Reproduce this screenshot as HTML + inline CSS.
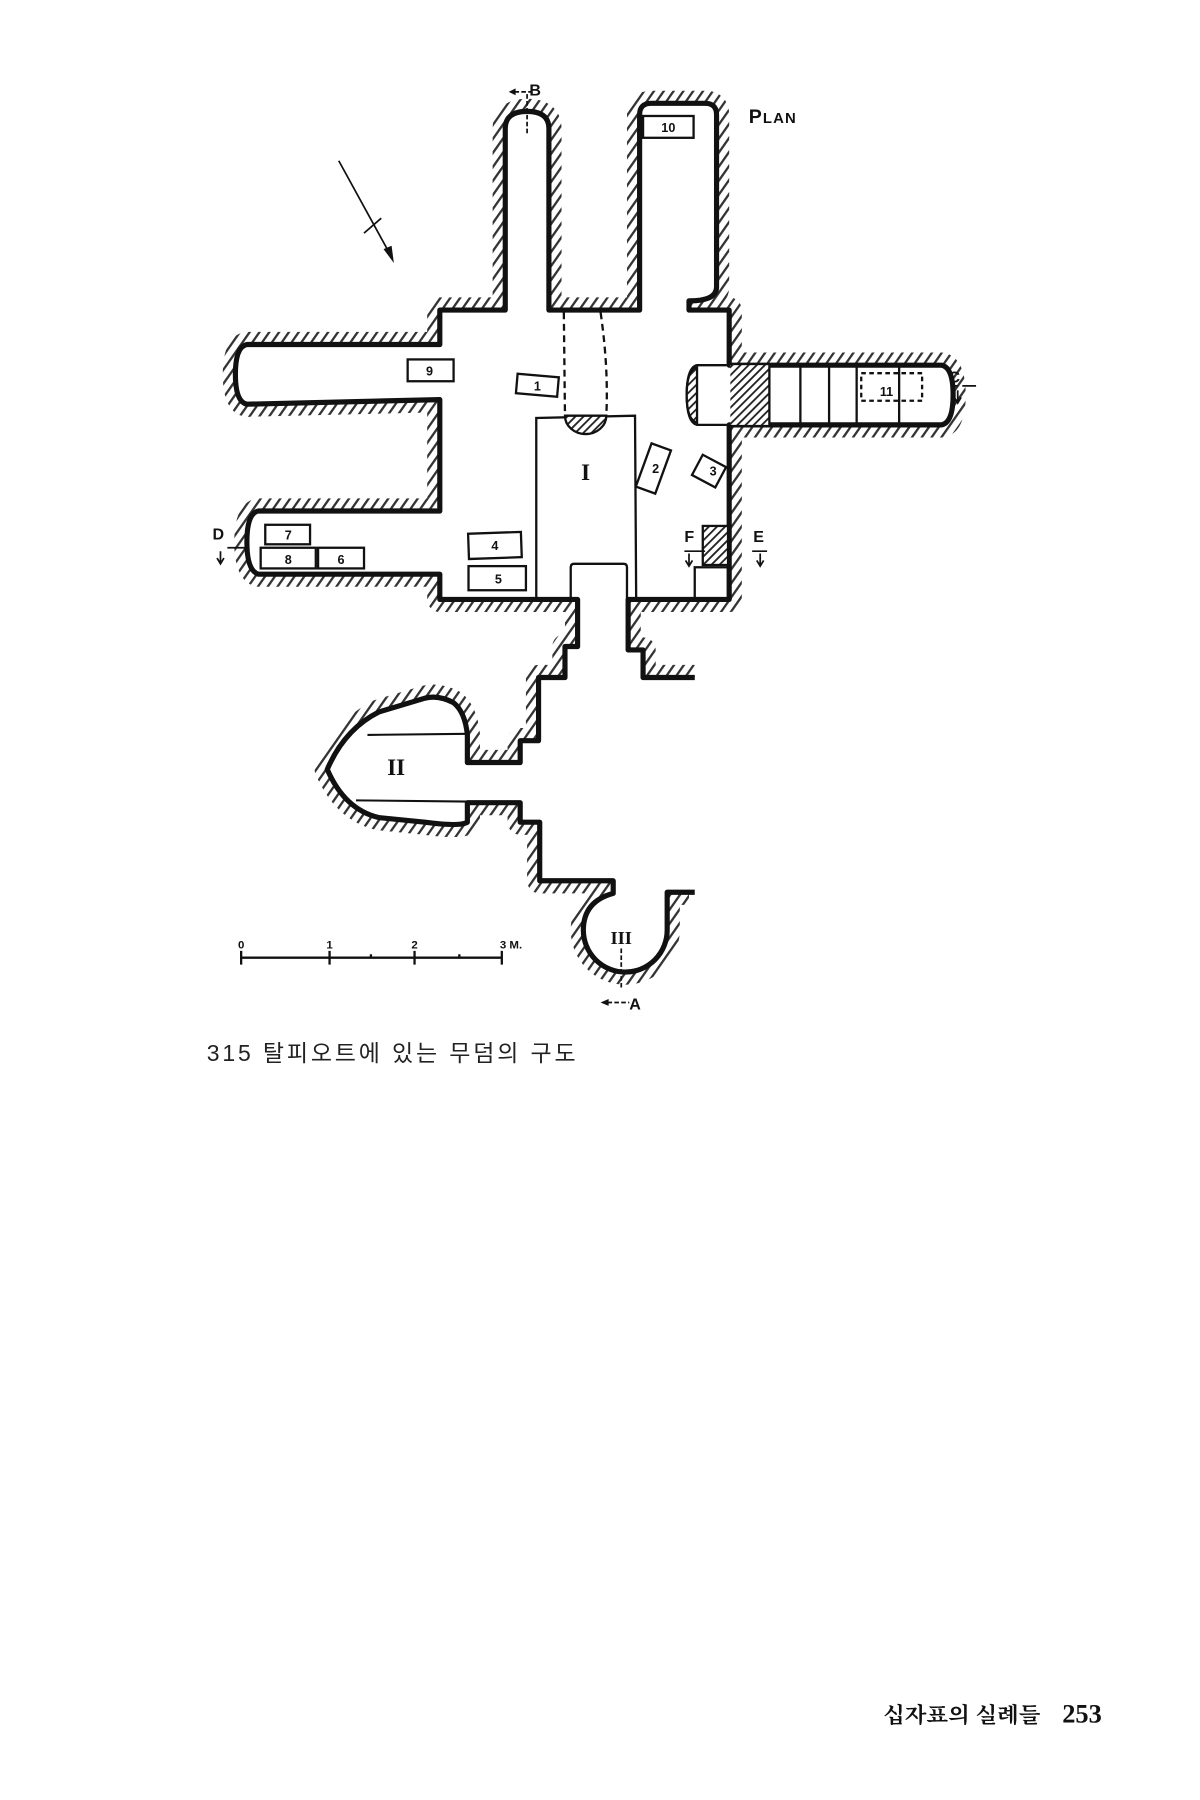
<!DOCTYPE html>
<html><head><meta charset="utf-8"><style>
html,body{margin:0;padding:0;background:#fff;overflow:hidden;width:1200px;height:1800px;}
svg{display:block;}
text{font-family:"Liberation Sans","Noto Sans CJK KR",sans-serif;}
</style></head><body>
<svg width="1200" height="1800" viewBox="0 0 1045 1567.5" xmlns="http://www.w3.org/2000/svg">
<defs>
<pattern id="h" width="7" height="7" patternUnits="userSpaceOnUse" patternTransform="rotate(35)">
<rect width="7" height="7" fill="#fff"/><rect width="2" height="7" fill="#333"/>
</pattern>
<pattern id="d" width="5" height="5" patternUnits="userSpaceOnUse" patternTransform="rotate(45)">
<rect width="5" height="5" fill="#fff"/><rect width="1.6" height="5" fill="#222"/>
</pattern>
</defs>
<g id="plan">
<path d="M605,590 L560,590 L560,566 L547,566 L547,522 L635,522 L635,370 L820,370 Q830,368 830,344 Q830,320 820,318 L635,318 L635,270 L600,270 L600,262 Q624,262 624,250 L624,100 Q624,90 614,90 L567,90 Q557,90 557,100 L557,270 L478,270 L478,112 Q478,97 459,97 Q440,97 440,112 L440,270 L383,270 L383,300 L215,300 Q205,302 205,326 Q205,350 215,352 L383,348 L383,445 L225,445 Q215,447 215,472 Q215,497 225,500 L383,500 L383,522 L503,522 L503,563 L492,563 L492,590 L469,590 L469,645 L453,645 L453,664 L407,664 L407,640 Q405,620 395,612 Q382,605 370,608 L330,620 Q300,635 285,670 Q300,705 330,712 L370,716 Q400,720 407,716 L407,699 L453,699 L453,716 L470,716 L470,767 L534,767 L534,778 Q508,785 508,810 A36,36 0 0 0 581,810 L581,777 L605,777" fill="none" stroke="url(#h)" stroke-width="22" stroke-linejoin="round"/>
<path d="M605,590 L560,590 L560,566 L547,566 L547,522 L635,522 L635,370 L820,370 Q830,368 830,344 Q830,320 820,318 L635,318 L635,270 L600,270 L600,262 Q624,262 624,250 L624,100 Q624,90 614,90 L567,90 Q557,90 557,100 L557,270 L478,270 L478,112 Q478,97 459,97 Q440,97 440,112 L440,270 L383,270 L383,300 L215,300 Q205,302 205,326 Q205,350 215,352 L383,348 L383,445 L225,445 Q215,447 215,472 Q215,497 225,500 L383,500 L383,522 L503,522 L503,563 L492,563 L492,590 L469,590 L469,645 L453,645 L453,664 L407,664 L407,640 Q405,620 395,612 Q382,605 370,608 L330,620 Q300,635 285,670 Q300,705 330,712 L370,716 Q400,720 407,716 L407,699 L453,699 L453,716 L470,716 L470,767 L534,767 L534,778 Q508,785 508,810 A36,36 0 0 0 581,810 L581,777 L605,777 Z" fill="#fff" stroke="none"/>
<rect x="600" y="590" width="20" height="200" fill="#fff"/>
<path d="M605,590 L560,590 L560,566 L547,566 L547,522 L635,522 L635,370 L820,370 Q830,368 830,344 Q830,320 820,318 L635,318 L635,270 L600,270 L600,262 Q624,262 624,250 L624,100 Q624,90 614,90 L567,90 Q557,90 557,100 L557,270 L478,270 L478,112 Q478,97 459,97 Q440,97 440,112 L440,270 L383,270 L383,300 L215,300 Q205,302 205,326 Q205,350 215,352 L383,348 L383,445 L225,445 Q215,447 215,472 Q215,497 225,500 L383,500 L383,522 L503,522 L503,563 L492,563 L492,590 L469,590 L469,645 L453,645 L453,664 L407,664 L407,640 Q405,620 395,612 Q382,605 370,608 L330,620 Q300,635 285,670 Q300,705 330,712 L370,716 Q400,720 407,716 L407,699 L453,699 L453,716 L470,716 L470,767 L534,767 L534,778 Q508,785 508,810 A36,36 0 0 0 581,810 L581,777 L605,777" fill="none" stroke="#111" stroke-width="4.5" stroke-linejoin="round"/>
</g>
<g fill="none" stroke="#111" stroke-width="2">
<path d="M497,522 L497,494 Q497,491 500,491 L543,491 Q546,491 546,494 L546,522"/>
<path d="M467,522 L467,364 L553,362 L554,522"/>
<path d="M492,362 A18,16 0 0 0 528,362 Z" fill="url(#d)"/>
<path d="M491,272 L492,362 M523,272 Q530,320 528,362" stroke-dasharray="6,4"/>
<path d="M320,640 L407,639 M310,697 L407,698" stroke-width="1.8"/>
<rect x="636" y="318" width="34" height="52" fill="url(#d)" stroke="none"/>
<path d="M670,318 L670,370 M697,319 L697,370 M722,319 L722,370 M746,319 L746,370 M783,320 L783,368"/>
<rect x="750" y="325" width="53" height="24" stroke-dasharray="4,3"/>
<path d="M633,318 L607,318 Q598,320 598,344 Q598,368 607,370 L633,370"/>
<path d="M607,320 Q598,322 598,344 Q598,366 607,368 Z" fill="url(#d)"/>
<rect x="612" y="458" width="22" height="34" fill="url(#d)"/>
<rect x="605" y="494" width="29" height="28"/>
<rect x="355" y="313" width="40" height="19"/>
<rect x="450" y="327" width="36" height="17" transform="rotate(5 468 335)"/>
<rect x="560" y="388" width="18" height="40" transform="rotate(20 569 408)"/>
<rect x="606" y="400" width="23" height="20" transform="rotate(28 617 410)"/>
<rect x="408" y="464" width="46" height="22" transform="rotate(-2 431 475)"/>
<rect x="408" y="493" width="50" height="21"/>
<rect x="231" y="457" width="39" height="17"/>
<rect x="227" y="477" width="48" height="18"/>
<rect x="277" y="477" width="40" height="18"/>
<rect x="560" y="101" width="44" height="19"/>
</g>
<g font-size="11" font-weight="bold" fill="#111" text-anchor="middle">
<text x="374" y="327">9</text><text x="468" y="340">1</text><text x="571" y="412">2</text><text x="621" y="414">3</text>
<text x="431" y="479">4</text><text x="434" y="508">5</text><text x="251" y="470">7</text><text x="251" y="491">8</text><text x="297" y="491">6</text>
<text x="582" y="115">10</text><text x="772" y="345">11</text>
</g>
<g font-weight="bold" fill="#111" text-anchor="middle">
<text x="510" y="418" font-size="20" style="font-family:'Liberation Serif',serif">I</text>
<text x="345" y="675" font-size="20" style="font-family:'Liberation Serif',serif">II</text>
<text x="541" y="822" font-size="16" style="font-family:'Liberation Serif',serif">III</text>
</g>
<g stroke="#111" stroke-width="1.5" fill="none">
<path d="M459,82 L459,118 M448,80 L462,80 M541,826 L541,862 M529,873 L548,873" stroke-dasharray="4,2"/>
<path d="M838,336 L850,336 M830,336 L834,336 M198,477 L214,477 M596,480 L614,480 M655,480 L668,480"/>
<path d="M295,140 L340,222 M317,203 L332,190"/>
<path d="M210,834 L437,834 M210,828 L210,840 M287,828 L287,840 M361,828 L361,840 M437,828 L437,840 M323,831 L323,834 M400,831 L400,834" stroke-width="2"/>
</g>
<path d="M343,229 L334,217 L341,214 Z" fill="#111"/>
<path d="M443,80 L449,77 L449,83 Z M523,873 L530,870 L530,876 Z" fill="#111"/>
<path d="M834,340 L834,350 M831,346 L834,351 L837,346 M192,480 L192,490 M189,486 L192,491 L195,486 M600,482 L600,492 M597,488 L600,493 L603,488 M662,482 L662,492 M659,488 L662,493 L665,488" stroke="#111" stroke-width="1.5" fill="none"/>
<g font-weight="bold" fill="#111" font-size="14">
<text x="461" y="83">B</text><text x="548" y="879">A</text><text x="826" y="333">C</text>
<text x="185" y="470">D</text><text x="596" y="472">F</text><text x="656" y="472">E</text>
<text x="652" y="107" font-size="17" letter-spacing="1">P<tspan font-size="13">LAN</tspan></text>
</g>
<g font-size="10" font-weight="bold" fill="#111" text-anchor="middle">
<text x="210" y="826">0</text><text x="287" y="826">1</text><text x="361" y="826">2</text><text x="445" y="826">3 M.</text>
</g>
<text x="212" y="834" font-size="8" fill="#111">.....</text>
<text x="180" y="924" font-size="20" letter-spacing="2.5" fill="#222" style="font-family:'Liberation Sans','Noto Sans CJK KR',sans-serif">315 탈피오트에 있는 무덤의 구도</text>
<text x="769" y="1500" font-size="19" font-weight="bold" textLength="137" lengthAdjust="spacingAndGlyphs" fill="#111" style="font-family:'Liberation Serif','Noto Serif CJK SC',serif">십자표의 실례들</text>
<text x="925" y="1500" font-size="23" font-weight="bold" fill="#111" style="font-family:'Liberation Serif',serif">253</text>
</svg>
</body></html>
